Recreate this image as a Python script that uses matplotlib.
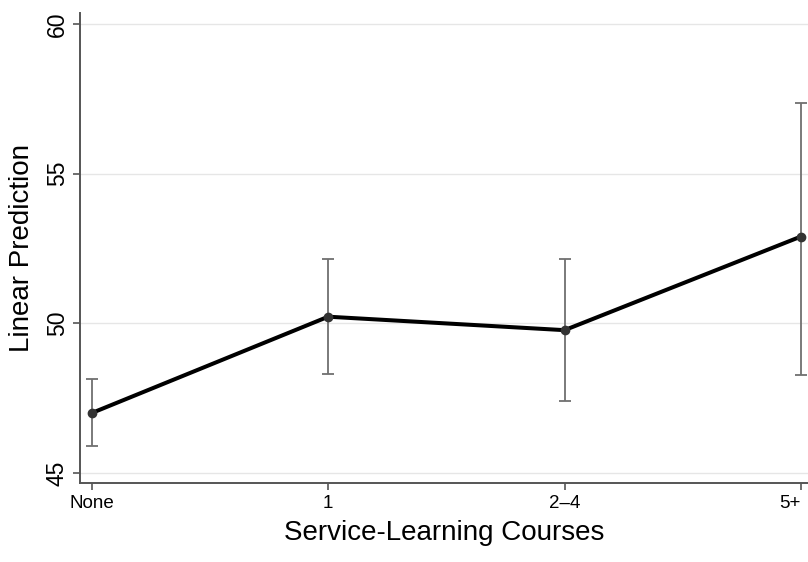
import matplotlib
matplotlib.use("Agg")
import matplotlib.pyplot as plt
from matplotlib.transforms import ScaledTranslation

# values
categories = ["None", "1", "2\u20134", "5+"]
prediction = [47.0, 50.22, 49.77, 52.9]
ci_low = [45.9, 48.29, 47.41, 48.27]
ci_high = [48.14, 52.14, 52.14, 57.38]
yticks = [45, 50, 55, 60]

plt.rcParams["font.family"] = ["Liberation Sans", "DejaVu Sans"]

fig = plt.figure(figsize=(8.08, 5.62), dpi=100)
ax = fig.add_axes([0.099, 0.1406, 0.901, 0.836])

x = list(range(len(categories)))
err_lo = [p - lo for p, lo in zip(prediction, ci_low)]
err_hi = [hi - p for p, hi in zip(prediction, ci_high)]

ax.errorbar(x, prediction, yerr=[err_lo, err_hi], fmt="none",
            ecolor="#707070", elinewidth=1.3, capsize=4, capthick=1.3, zorder=2)
ax.plot(x, prediction, color="black", lw=2.9, zorder=3)
ax.plot(x, prediction, "o", color="#333333", ms=6, zorder=4)

ax.set_xlim(-0.05, 3.03)
ax.set_ylim(44.66, 60.37)
ax.set_yticks(yticks)
ax.set_yticklabels([str(t) for t in yticks], rotation=90, va="center", fontsize=16.5)
ax.set_xticks(x)
ax.set_xticklabels(categories, fontsize=13.5)

# keep the last category label inside the figure edge
last = ax.get_xticklabels()[-1]
last.set_horizontalalignment("right")
last.set_transform(last.get_transform() + ScaledTranslation(7 / 72, 0, fig.dpi_scale_trans))

ax.grid(axis="y", color="#e6e6e6", lw=1.0)
ax.set_axisbelow(True)
for side in ["top", "right"]:
    ax.spines[side].set_visible(False)
for side in ["left", "bottom"]:
    ax.spines[side].set_color("#555555")
    ax.spines[side].set_linewidth(1.4)
ax.tick_params(axis="both", direction="out", length=5, width=1.2, color="#555555")
ax.tick_params(axis="y", pad=3)

ax.set_ylabel("Linear Prediction", fontsize=20, labelpad=8)
ax.set_xlabel("Service-Learning Courses", fontsize=20, labelpad=6)

fig.savefig("out.png", dpi=100)
